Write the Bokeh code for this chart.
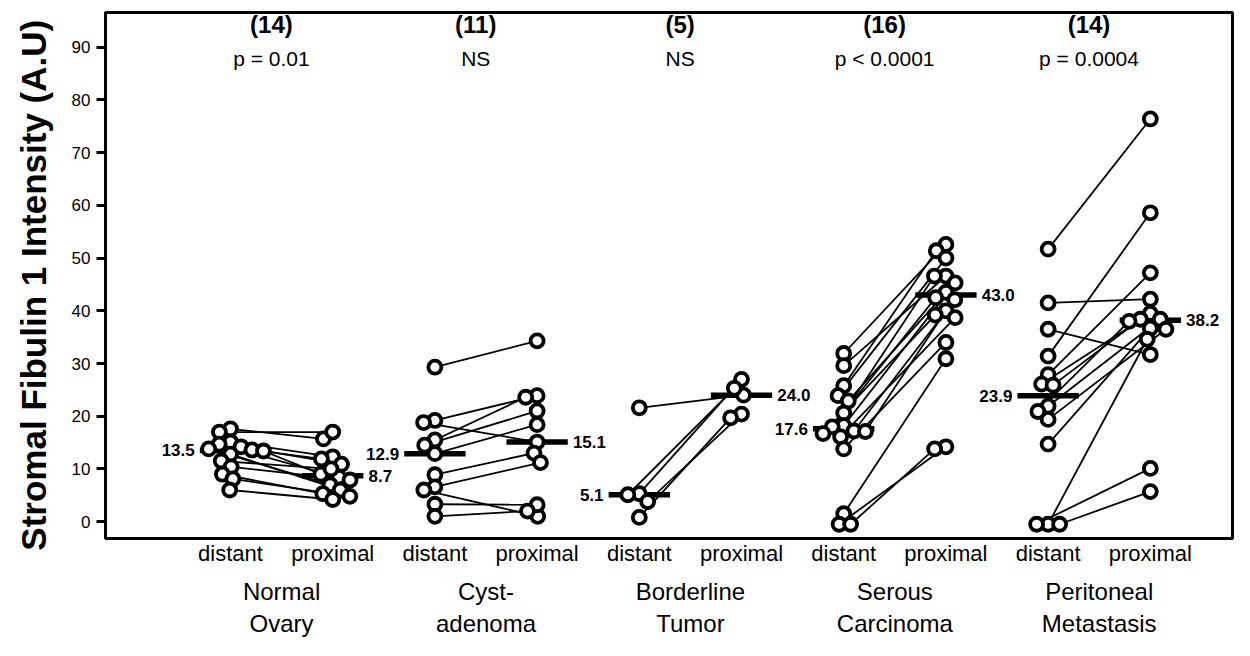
import numpy as np
from bokeh.plotting import figure
from bokeh.models import Range1d, LinearAxis, FixedTicker
from bokeh.core.properties import value
from bokeh.embed import file_html
from bokeh.resources import INLINE

# ---------------- data ----------------
groups = ["Normal\nOvary", "Cyst-\nadenoma", "Borderline\nTumor", "Serous\nCarcinoma", "Peritoneal\nMetastasis"]
counts = ["(14)", "(11)", "(5)", "(16)", "(14)"]
pvalues = ["p = 0.01", "NS", "NS", "p < 0.0001", "p = 0.0004"]
tick_labels = ["distant", "proximal"]

normal_distant = [17.6, 17.0, 15.1, 14.7, 14.2, 13.8, 13.6, 13.4, 12.8, 11.5, 10.4, 9.0, 8.1, 6.0]
normal_proximal = [15.7, 17.0, 12.3, 8.4, 10.9, 7.0, 11.9, 9.0, 6.0, 10.0, 7.9, 5.3, 4.8, 4.2]

cyst_distant = [29.3, 19.2, 18.8, 15.5, 14.5, 12.9, 8.9, 6.6, 6.0, 3.3, 1.0]
cyst_proximal = [34.3, 23.9, 15.1, 23.6, 21.0, 18.4, 13.0, 11.2, 1.0, 3.2, 2.0]

border_distant = [21.6, 5.3, 5.1, 3.8, 0.8]
border_proximal = [24.0, 27.0, 25.3, 20.4, 19.7]

serous_distant = [31.9, 29.6, 25.8, 23.9, 22.9, 20.6, 18.2, 18.0, 17.2, 17.1, 16.7, 16.1, 13.8, 1.5, -0.5, -0.5]
serous_proximal = [52.6, 46.6, 51.4, 50.0, 43.5, 46.6, 45.3, 42.5, 42.1, 40.0, 39.2, 38.7, 34.0, 30.9, 14.2, 13.8]

perit_distant = [51.7, 41.5, 36.5, 31.4, 27.9, 26.1, 25.9, 21.9, 20.9, 19.4, 14.7, -0.5, -0.5, -0.5]
perit_proximal = [76.4, 42.2, 31.7, 58.6, 47.2, 39.5, 38.4, 38.4, 38.0, 36.5, 36.7, 34.6, 10.1, 5.7]

distant_medians = [13.5, 12.9, 5.1, 17.6, 23.9]
proximal_medians = [8.7, 15.1, 24.0, 43.0, 38.2]

all_distant = [normal_distant, cyst_distant, border_distant, serous_distant, perit_distant]
all_proximal = [normal_proximal, cyst_proximal, border_proximal, serous_proximal, perit_proximal]

# ---------------- layout helpers ----------------
FONT = "Liberation Sans"
X0, X1 = -1.223, 9.804
Y0, Y1 = -3.2, 96.6
W, H = 1242, 648
BL, BR, BT, BB = 105, 10, 12, 110
px_per_x = (W - BL - BR) / (X1 - X0)
px_per_y = (H - BT - BB) / (Y1 - Y0)


def swarm(vals, d=11.5):
    vals = np.asarray(vals, dtype=float)
    order = np.argsort(-vals, kind="stable")
    placed = []
    offs = np.zeros(len(vals))
    for i in order:
        y = vals[i] * px_per_y
        near = [(px, py) for px, py in placed if abs(py - y) < d]
        cands = [0.0]
        for px, py in near:
            w = np.sqrt(d * d - (py - y) ** 2)
            cands += [px - w, px + w]
        cands.sort(key=lambda c: (abs(c), c))
        for c in cands:
            ok = all(abs(c - px) >= np.sqrt(d * d - (py - y) ** 2) - 1e-6 for px, py in near)
            if ok:
                offs[i] = c / px_per_x
                placed.append((c, y))
                break
    return offs


p = figure(width=W, height=H, output_backend="svg", toolbar_location=None,
           x_range=Range1d(X0, X1), y_range=Range1d(Y0, Y1),
           min_border_left=BL, min_border_right=BR, min_border_top=BT, min_border_bottom=BB,
           x_axis_type=None)
p.grid.visible = False
p.outline_line_color = "black"
p.outline_line_width = 3
p.background_fill_color = "white"
p.border_fill_color = "white"

# y axis
ya = p.yaxis[0]
ya.ticker = FixedTicker(ticks=list(range(0, 91, 10)))
ya.minor_tick_line_color = None
ya.major_tick_out = 9
ya.major_tick_in = 0
ya.major_tick_line_width = 3
ya.axis_line_width = 3
ya.major_label_text_font = FONT
ya.major_label_text_font_size = "17px"
ya.major_label_text_color = "black"
ya.major_label_standoff = 6
ya.axis_label = "Stromal  Fibulin 1  Intensity (A.U)"
ya.axis_label_text_font = FONT
ya.axis_label_text_font_style = "bold"
ya.axis_label_text_font_size = "35px"
ya.axis_label_text_color = "black"
ya.axis_label_standoff = 16

# x axes (distant/proximal, then group names)
pos = list(range(10))
xa1 = LinearAxis(ticker=FixedTicker(ticks=pos),
                 major_label_overrides={k: tick_labels[k % 2] for k in pos})
xa2 = LinearAxis(ticker=FixedTicker(ticks=[2 * g + 0.5 for g in range(5)]),
                 major_label_overrides={2 * g + 0.5: groups[g] for g in range(5)})
for ax, fs, so in [(xa1, "22px", 2), (xa2, "24px", 9)]:
    ax.axis_line_color = None
    ax.major_tick_line_color = None
    ax.minor_tick_line_color = None
    ax.major_tick_out = 0
    ax.major_tick_in = 0
    ax.major_label_text_font = FONT
    ax.major_label_text_font_size = fs
    ax.major_label_text_color = "black"
    ax.major_label_standoff = so
p.add_layout(xa1, "below")
p.add_layout(xa2, "below")

# pairs
xs_lines, ys_lines = [], []
pt_x, pt_y = [], []
for g in range(5):
    d = np.asarray(all_distant[g], dtype=float)
    pr = np.asarray(all_proximal[g], dtype=float)
    od = swarm(d)
    op = swarm(pr)
    xd = 2 * g + od
    xp = 2 * g + 1 + op
    for i in range(len(d)):
        xs_lines.append([xd[i], xp[i]])
        ys_lines.append([d[i], pr[i]])
    pt_x += list(xd) + list(xp)
    pt_y += list(d) + list(pr)

p.multi_line(xs=xs_lines, ys=ys_lines, line_color="black", line_width=1.8)

# median bars
hw = 0.3
bx, by = [], []
for g in range(5):
    bx.append([2 * g - hw, 2 * g + hw]); by.append([distant_medians[g]] * 2)
    bx.append([2 * g + 1 - hw, 2 * g + 1 + hw]); by.append([proximal_medians[g]] * 2)
p.multi_line(xs=bx, ys=by, line_color="black", line_width=5.5)

p.scatter(x=pt_x, y=pt_y, size=13, marker="circle", fill_color="white",
          line_color="black", line_width=3.8)

# median labels
p.text(x=[2 * g - hw - 0.05 for g in range(5)], y=distant_medians,
       text=[f"{v:.1f}" for v in distant_medians], text_font=value(FONT),
       text_font_style="bold", text_font_size="17px", text_align="right",
       text_baseline="middle", text_color="black")
p.text(x=[2 * g + 1 + hw + 0.05 for g in range(5)], y=proximal_medians,
       text=[f"{v:.1f}" for v in proximal_medians], text_font=value(FONT),
       text_font_style="bold", text_font_size="17px", text_align="left",
       text_baseline="middle", text_color="black")

# counts and p-values
p.text(x=[2 * g + 0.4 for g in range(5)], y=[94.4] * 5, text=counts,
       text_font=value(FONT), text_font_style="bold", text_font_size="24px",
       text_align="center", text_baseline="middle", text_color="black")
p.text(x=[2 * g + 0.4 for g in range(5)], y=[87.8] * 5, text=pvalues,
       text_font=value(FONT), text_font_size="21px",
       text_align="center", text_baseline="middle", text_color="black")

open("out.html", "w").write(file_html(p, INLINE))
